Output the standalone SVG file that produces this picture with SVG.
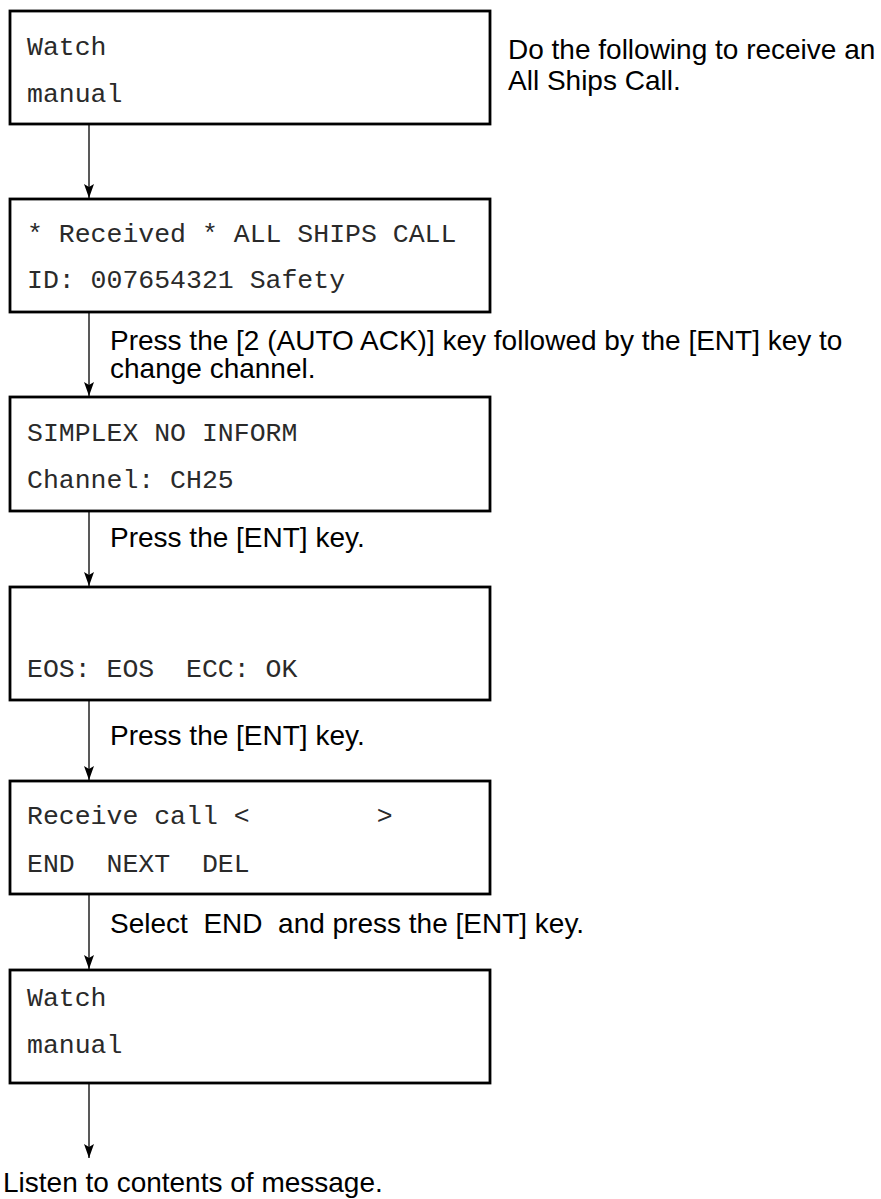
<svg xmlns="http://www.w3.org/2000/svg" width="881" height="1199" viewBox="0 0 881 1199">
<defs>
<style>
.box{fill:#fff;stroke:#000;stroke-width:2.8}
.mono{font-family:"Liberation Mono","Courier New",monospace;font-size:26.5px;fill:#2a2a2a;white-space:pre}
.sans{font-family:"Liberation Sans",Arial,sans-serif;font-size:28px;fill:#000;white-space:pre}
.conn{stroke:#222;stroke-width:1.5;fill:none}
</style>
<marker id="ah" viewBox="0 0 14 10" refX="14" refY="5" markerWidth="14" markerHeight="10" markerUnits="userSpaceOnUse" orient="auto">
<path d="M0,0 L14,5 L0,10 L3,5 Z" fill="#000"/>
</marker>
</defs>
<rect width="881" height="1199" fill="#fff"/>
<g id="connectors">
<line class="conn" x1="89" y1="124" x2="89" y2="198" marker-end="url(#ah)"/>
<line class="conn" x1="89" y1="312" x2="89" y2="396" marker-end="url(#ah)"/>
<line class="conn" x1="89" y1="511" x2="89" y2="586" marker-end="url(#ah)"/>
<line class="conn" x1="89" y1="700" x2="89" y2="780" marker-end="url(#ah)"/>
<line class="conn" x1="89" y1="894" x2="89" y2="969" marker-end="url(#ah)"/>
<line class="conn" x1="89" y1="1083" x2="89" y2="1158" marker-end="url(#ah)"/>
</g>
<g id="node1">
<rect class="box" x="10" y="11" width="480" height="113"/>
<text class="mono" x="27" y="55">Watch</text>
<text class="mono" x="27" y="102">manual</text>
</g>
<g id="intro">
<text class="sans" x="508" y="59">Do the following to receive an</text>
<text class="sans" x="508" y="90">All Ships Call.</text>
</g>
<g id="node2">
<rect class="box" x="10" y="199" width="480" height="113"/>
<text class="mono" x="27" y="242">* Received * ALL SHIPS CALL</text>
<text class="mono" x="27" y="288">ID: 007654321 Safety</text>
</g>
<g id="label1">
<text class="sans" x="110" y="350">Press the [2 (AUTO ACK)] key followed by the [ENT] key to</text>
<text class="sans" x="110" y="378">change channel.</text>
</g>
<g id="node3">
<rect class="box" x="10" y="397" width="480" height="114"/>
<text class="mono" x="27" y="441">SIMPLEX NO INFORM</text>
<text class="mono" x="27" y="488">Channel: CH25</text>
</g>
<g id="label2">
<text class="sans" x="110" y="547">Press the [ENT] key.</text>
</g>
<g id="node4">
<rect class="box" x="10" y="587" width="480" height="113"/>
<text class="mono" x="27" y="677">EOS: EOS  ECC: OK</text>
</g>
<g id="label3">
<text class="sans" x="110" y="745">Press the [ENT] key.</text>
</g>
<g id="node5">
<rect class="box" x="10" y="781" width="480" height="113"/>
<text class="mono" x="27" y="824">Receive call &lt;        &gt;</text>
<text class="mono" x="27" y="872">END  NEXT  DEL</text>
</g>
<g id="label4">
<text class="sans" x="110" y="933">Select  END  and press the [ENT] key.</text>
</g>
<g id="node6">
<rect class="box" x="10" y="970" width="480" height="113"/>
<text class="mono" x="27" y="1006">Watch</text>
<text class="mono" x="27" y="1053">manual</text>
</g>
<g id="final">
<text class="sans" x="3" y="1192">Listen to contents of message.</text>
</g>
</svg>
